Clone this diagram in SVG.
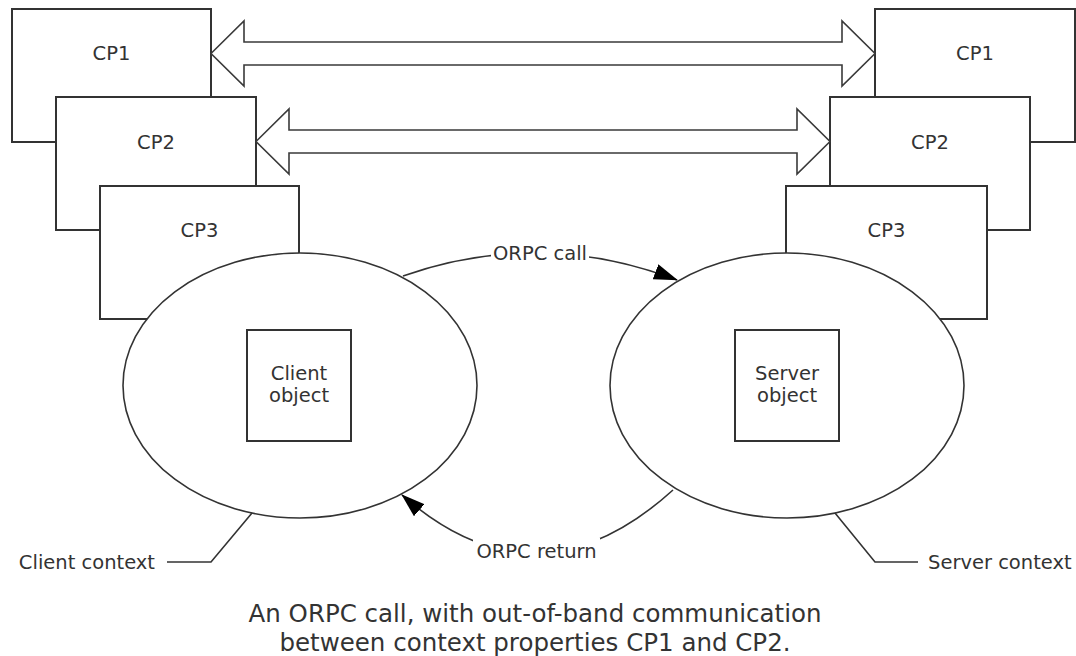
<svg xmlns="http://www.w3.org/2000/svg" width="1076" height="656" viewBox="0 0 1076 656">
<style>
  .box { fill: #ffffff; stroke: #333333; stroke-width: 2; }
  .ctx { fill: #ffffff; stroke: #333333; stroke-width: 1.6; }
  .obj { fill: #ffffff; stroke: #333333; stroke-width: 2; }
  .lbl { font-family: "DejaVu Sans", Verdana, sans-serif; font-size: 19.5px; fill: #333333; }
  .mid { text-anchor: middle; }
  .blk { fill: #ffffff; stroke: #3a3a3a; stroke-width: 1.6; stroke-linejoin: miter; }
  .conn { fill: none; stroke: #333333; stroke-width: 1.6; }
  .cap { font-family: "DejaVu Sans", Verdana, sans-serif; font-size: 24.5px; fill: #333333; text-anchor: middle; }
</style>
<defs>
  <marker id="head" viewBox="0 0 24 16" refX="23" refY="8" markerWidth="24" markerHeight="16" markerUnits="userSpaceOnUse" orient="auto">
    <path d="M0,0 L24,8 L0,16 Z" fill="#000000"/>
  </marker>
</defs>
<rect width="1076" height="656" fill="#ffffff"/>

<!-- client side context properties -->
<g id="cp1-client"><rect class="box" x="12" y="9" width="199" height="133"/><text class="lbl mid" x="111.5" y="60">CP1</text></g>
<g id="cp2-client"><rect class="box" x="56" y="97" width="200" height="133"/><text class="lbl mid" x="156" y="149">CP2</text></g>
<g id="cp3-client"><rect class="box" x="100" y="186" width="199" height="133"/><text class="lbl mid" x="199.5" y="237">CP3</text></g>

<!-- server side context properties -->
<g id="cp1-server"><rect class="box" x="875" y="9" width="200" height="133"/><text class="lbl mid" x="975" y="60">CP1</text></g>
<g id="cp2-server"><rect class="box" x="830" y="97" width="200" height="133"/><text class="lbl mid" x="930" y="149">CP2</text></g>
<g id="cp3-server"><rect class="box" x="786" y="186" width="201" height="133"/><text class="lbl mid" x="886.5" y="237">CP3</text></g>

<!-- contexts -->
<g id="client-context"><ellipse class="ctx" cx="300" cy="385.5" rx="177" ry="132.5"/></g>
<g id="client-object"><rect class="obj" x="247" y="330" width="104" height="111"/><text class="lbl mid" x="299" y="380">Client</text><text class="lbl mid" x="299" y="402">object</text></g>
<g id="server-context"><ellipse class="ctx" cx="787" cy="385.5" rx="177" ry="132.5"/></g>
<g id="server-object"><rect class="obj" x="735" y="330" width="104" height="111"/><text class="lbl mid" x="787" y="380">Server</text><text class="lbl mid" x="787" y="402">object</text></g>

<g id="connectors">
  <path class="blk" d="M211,53.5 L244,21 L244,42 L842,42 L842,21 L875,53.5 L842,86 L842,65 L244,65 L244,86 Z"/>
  <path class="blk" d="M256,141.5 L289,109 L289,130 L797,130 L797,109 L830,141.5 L797,174 L797,153 L289,153 L289,174 Z"/>

  <path class="conn" d="M403,276 Q540,228 677,280" marker-end="url(#head)"/>
  <rect x="491" y="240" width="98" height="24" fill="#ffffff"/>
  <text class="lbl mid" x="540" y="260">ORPC call</text>

  <path class="conn" d="M673,490 Q536.5,613.5 402,495" marker-end="url(#head)"/>
  <rect x="473" y="538" width="127" height="26" fill="#ffffff"/>
  <text class="lbl mid" x="536.5" y="558">ORPC return</text>

  <polyline class="conn" points="167,562 211,562 252,513"/>
  <text class="lbl" x="155" y="569" text-anchor="end">Client context</text>

  <polyline class="conn" points="835,513 875,562 918,562"/>
  <text class="lbl" x="928" y="569">Server context</text>
</g>

<g id="caption">
  <text class="cap" x="535" y="622">An ORPC call, with out-of-band communication</text>
  <text class="cap" x="535" y="651">between context properties CP1 and CP2.</text>
</g>
</svg>
